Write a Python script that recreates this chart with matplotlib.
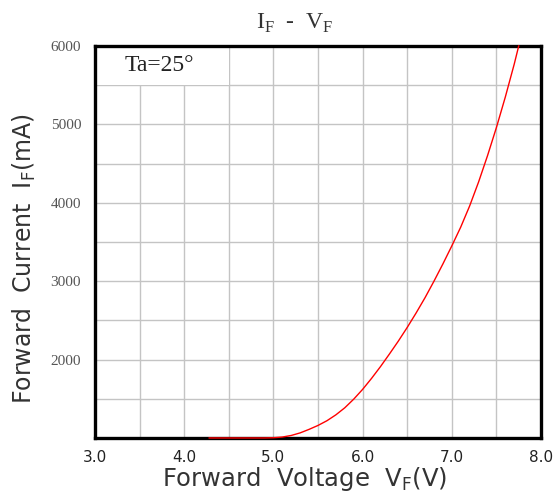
import numpy as np
import matplotlib.pyplot as plt
from matplotlib.patches import Rectangle

# forward voltage (V) vs forward current (mA)
vf = [4.28, 4.6, 4.9, 5.0, 5.1, 5.2, 5.3, 5.4, 5.5, 5.6, 5.7, 5.8, 5.9, 6.0, 6.1, 6.2,
      6.3, 6.4, 6.5, 6.6, 6.7, 6.8, 6.9, 7.0, 7.1, 7.2, 7.3, 7.4, 7.5, 7.6, 7.7, 7.75]
if_ma = [1000, 1000, 1000, 1003, 1012, 1032, 1065, 1110, 1160, 1220, 1295, 1385, 1495,
         1620, 1760, 1910, 2070, 2235, 2410, 2595, 2790, 3000, 3220, 3450, 3690, 3960,
         4265, 4600, 4960, 5350, 5770, 6000]

xticks = [3.0, 4.0, 5.0, 6.0, 7.0, 8.0]
xticklabels = ["3.0", "4.0", "5.0", "6.0", "7.0", "8.0"]
yticks = [2000, 3000, 4000, 5000, 6000]
yticklabels = ["2000", "3000", "4000", "5000", "6000"]

plt.rcParams['mathtext.fontset'] = 'custom'
plt.rcParams['mathtext.rm'] = 'DejaVu Sans'

fig = plt.figure(figsize=(5.57, 4.95), dpi=100)
ax = fig.add_axes([0.1706, 0.1152, 0.8007, 0.7919])

ax.set_xlim(3.0, 8.0)
ax.set_ylim(1000, 6000)

# tick labels only on the whole values, grid every half step
ax.set_xticks(xticks, xticklabels, fontsize=11, color="#222222")
ax.set_xticks(np.arange(3.5, 8.0, 1.0), minor=True)
ax.set_yticks(yticks, yticklabels, fontsize=11, family="Liberation Serif", color="#555555")
ax.set_yticks(np.arange(1500, 6000, 1000), minor=True)
ax.grid(True, which="both", color="#c4c4c4", linewidth=1.0)
ax.set_axisbelow(True)
ax.tick_params(which="both", length=0)
ax.tick_params(axis="x", pad=9)
ax.tick_params(axis="y", pad=10)

for s in ax.spines.values():
    s.set_linewidth(2.4)
    s.set_color("black")

# white box behind the temperature label
ax.add_patch(Rectangle((3.0, 5500), 1.5, 500, facecolor="white", edgecolor="none", zorder=1.5))
ax.text(3.33, 5750, "Ta=25°", fontsize=17, family="Liberation Serif", va="center", ha="left",
        color="#222222", zorder=3)

ax.plot(vf, if_ma, color="red", linewidth=1.0, zorder=4, clip_on=False)

ax.set_xlabel("Forward  Voltage  V$_\\mathregular{F}$(V)", fontsize=17.5, color="#333333")
ax.set_ylabel("Forward  Current  I$_\\mathregular{F}$(mA)", fontsize=17, color="#333333")
ax.xaxis.set_label_coords(0.47, -0.07)
ax.yaxis.set_label_coords(-0.128, 0.457)

fig.text(0.53, 0.952, "I$_\\mathregular{F}$  -  V$_\\mathregular{F}$", fontsize=17,
         family="Liberation Serif", ha="center", va="center", color="#333333")

plt.savefig("out.png", dpi=100)
